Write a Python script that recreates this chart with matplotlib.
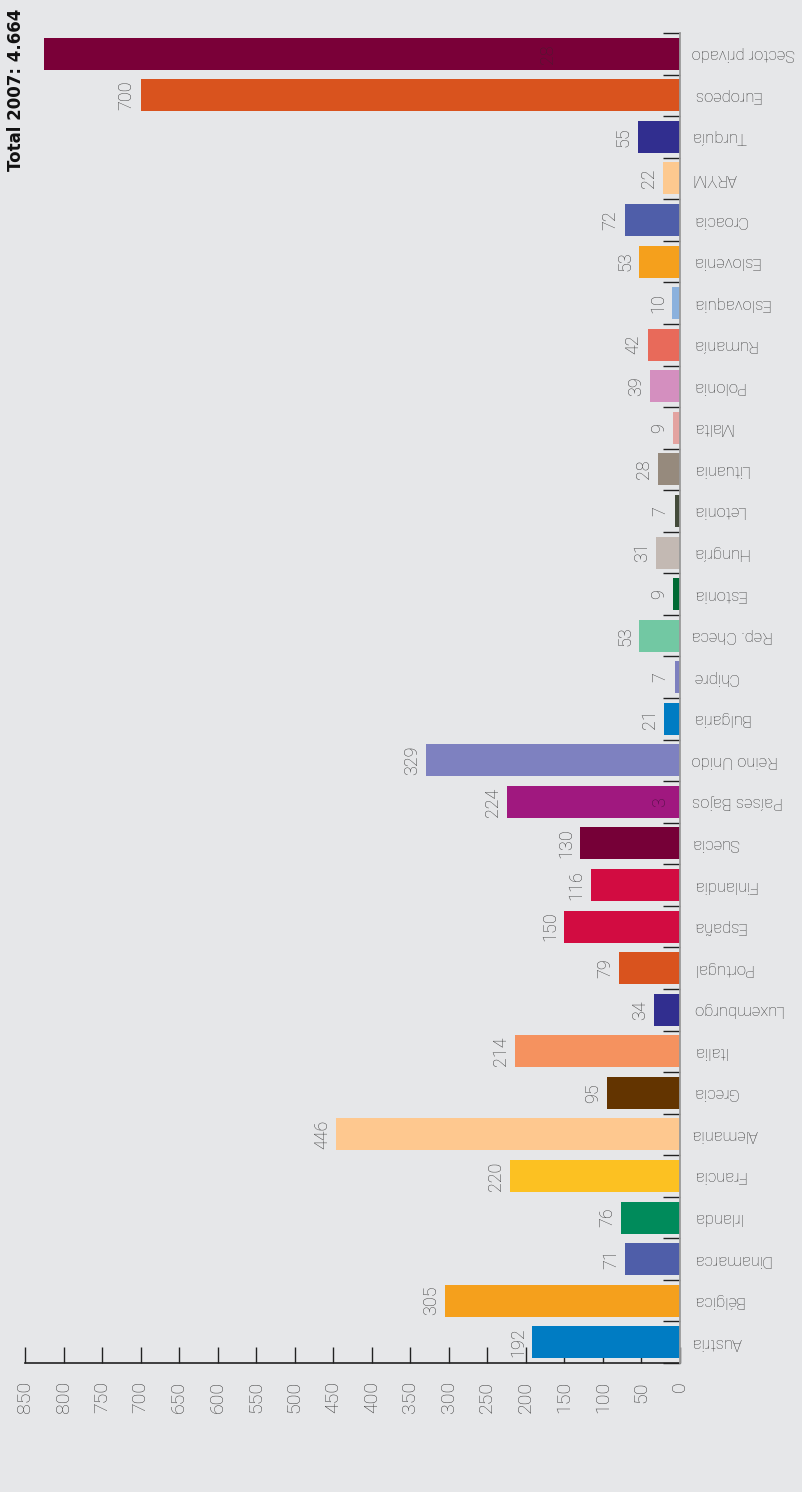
import matplotlib
matplotlib.use("Agg")  # no display, write straight to file
import matplotlib.pyplot as plt
import numpy as np

# ── Data: contributions 2007 (bottom of the axis first) ──────────────────────
countries = [
    "Austria", "Bélgica", "Dinamarca", "Irlanda", "Francia", "Alemania",
    "Grecia", "Italia", "Luxemburgo", "Portugal", "España", "Finlandia",
    "Suecia", "Países Bajos", "Reino Unido", "Bulgaria", "Chipre",
    "Rep. Checa", "Estonia", "Hungría", "Letonia", "Lituania", "Malta",
    "Polonia", "Rumanía", "Eslovaquia", "Eslovenia", "Croacia", "ARYM",
    "Turquía", "Europeos", "Sector privado",
]
amounts = [
    192, 305, 71, 76, 220, 446,
    95, 214, 34, 79, 150, 116,
    130, 224, 329, 21, 7,
    53, 9, 31, 7, 28, 9,
    39, 42, 10, 53, 72, 22,
    55, 700, 825,
]
bar_colors = [
    "#007cc3", "#f5a01c", "#4f5ea9", "#008b5b", "#fcc122", "#fec88f",
    "#633400", "#f5925f", "#312e8f", "#d9531e", "#d20c41", "#d20c41",
    "#760037", "#a0187f", "#7e81c0", "#007cc3", "#7d80bf",
    "#72c8a3", "#006a34", "#c3b9b3", "#434a3a", "#968a7d", "#e3a3a0",
    "#d48fbf", "#e86a5a", "#8bb1dd", "#f5a01c", "#4f5ea9", "#fdc98f",
    "#312e8f", "#d9531e", "#7a0038",
]
value_ticks = list(range(0, 851, 50))
title_text = "Total 2007: 4.664"

# leftover figures printed on top of two bars: (text, value position, row)
overprint_text = ["28", "3"]
overprint_x = [171, 26]
overprint_row = [31, 13]
overprint_color = ["#4a1a30", "#4a1040"]

BG = "#e6e7e9"
LABEL_GREY = "#3c3c3c"
FONT = ["Roboto", "DejaVu Sans"]
WEIGHT = "light"

W, H = 802, 1492
fig = plt.figure(figsize=(W / 100, H / 100), dpi=100, facecolor=BG)

# axes box in pixels: value axis 0 at x=680, 850 at x=25; rows from y=33 to y=1363
left, right, top, bottom = 25, 680, 33, 1363
ax = fig.add_axes([left / W, 1 - bottom / H, (right - left) / W, (bottom - top) / H])
ax.set_facecolor(BG)

rows = np.arange(len(countries))
ax.barh(rows, amounts, height=0.77, color=bar_colors, zorder=2)

ax.set_xlim(850, 0)
ax.set_ylim(-0.5, len(countries) - 0.5)

# ── Spines ────────────────────────────────────────────────────────────────────
ax.spines["left"].set_visible(False)
ax.spines["top"].set_visible(False)
ax.spines["right"].set_color("#9a9a9a")
ax.spines["right"].set_linewidth(1.3)
ax.spines["right"].set_zorder(3)
ax.spines["bottom"].set_color("#222222")
ax.spines["bottom"].set_linewidth(1.2)

# ── Value axis (bottom) ───────────────────────────────────────────────────────
ax.set_xticks(value_ticks)
ax.set_xticklabels([str(v) for v in value_ticks], family=FONT, fontweight=WEIGHT)
ax.tick_params(axis="x", direction="in", length=11.5, width=1.0, color="#222222",
               pad=13, labelsize=14, labelcolor=LABEL_GREY, labelrotation=90)

# ── Category axis (right, upside-down labels) ─────────────────────────────────
ax.yaxis.tick_right()
ax.set_yticks(rows)
ax.set_yticklabels(countries, family=FONT, fontweight=WEIGHT)
ax.set_yticks(np.arange(-0.5, len(countries), 1.0), minor=True)
ax.tick_params(axis="y", which="major", length=0, pad=8.5, labelsize=12,
               labelcolor=LABEL_GREY, labelrotation=180)
ax.tick_params(axis="y", which="minor", direction="in", length=12, width=1.0,
               color="#222222", right=True, left=False)
for lbl in ax.get_yticklabels():
    lbl.set_verticalalignment("center")

# ── Value labels at the bar ends ──────────────────────────────────────────────
# the private-sector bar runs up to the title, so it carries no end label
for i, v in enumerate(amounts[:-1]):
    ax.annotate(str(v), (v, i), xytext=(-5, 0), textcoords="offset pixels",
                ha="right", va="center", rotation=90, fontsize=13,
                color=LABEL_GREY, family=FONT, fontweight=WEIGHT)

for txt, xv, r, c in zip(overprint_text, overprint_x, overprint_row, overprint_color):
    ax.text(xv, r, txt, ha="center", va="center", rotation=90, fontsize=13,
            color=c, family=FONT, fontweight=WEIGHT, zorder=4)

# ── Title ─────────────────────────────────────────────────────────────────────
fig.text(16.5 / W, 1 - 9 / H, title_text, rotation=90, ha="center", va="top",
         fontsize=12, fontweight="bold", family="DejaVu Sans", color="#111111")

fig.savefig("out.png", dpi=100, facecolor=BG)
